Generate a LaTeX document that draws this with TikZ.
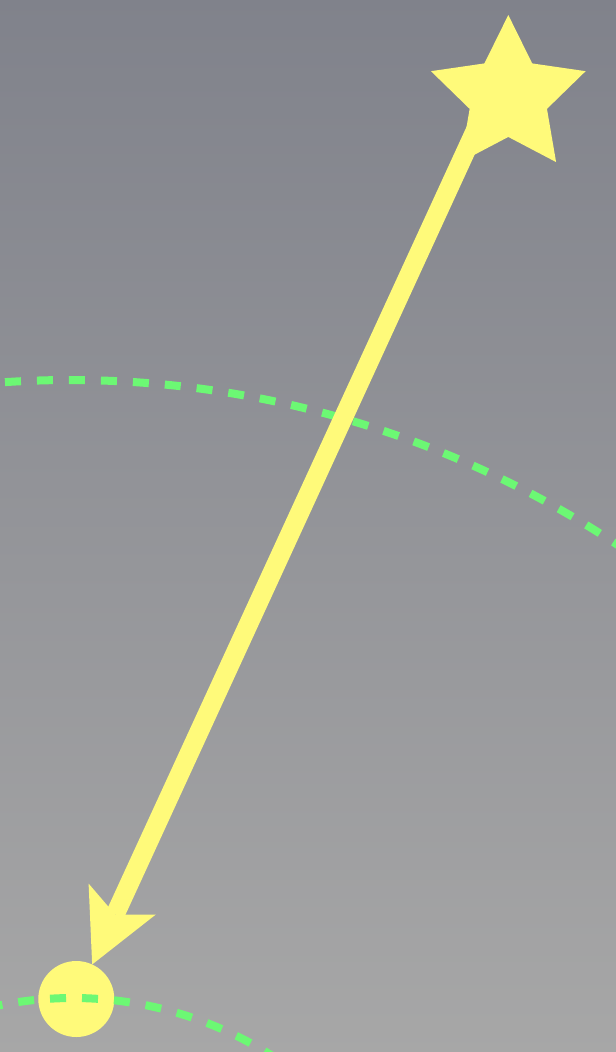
\documentclass[tikz,border=0pt]{standalone}
\usepackage{xcolor}
\usepackage{tikz}
\usetikzlibrary{arrows.meta, shapes.geometric}

\definecolor{skytop}{RGB}{128,130,139}
\definecolor{skybottom}{RGB}{167,167,167}
\definecolor{sunyellow}{RGB}{255,250,122}
\definecolor{orbitgreen}{RGB}{108,248,116}

\begin{document}
\begin{tikzpicture}[
    x=1bp, y=1bp,
    orbit/.style={draw=orbitgreen, line width=8bp, dash pattern=on 16bp off 16bp},
    beam/.style={draw=sunyellow, line width=19bp, -{Stealth[length=72bp, width=74bp, inset=17bp, line width=0bp]}},
    planetdot/.style={circle, fill=sunyellow, minimum size=76bp, inner sep=0pt, outer sep=0pt},
    sunstar/.style={star, star points=5, star point ratio=2, fill=sunyellow, minimum size=162.6bp, inner sep=0pt, outer sep=0pt},
]

% ===== Frame and sky =====
\useasboundingbox (0,0) rectangle (616,-1052);
\begin{scope}
    \clip (0,0) rectangle (616,-1052);
    \shade[top color=skytop, bottom color=skybottom] (-4,4) rectangle (620,-1056);
\end{scope}

% ===== Planet =====
\node[planetdot] (planet) at (76.3,-999) {};

% ===== Orbits =====
\coordinate (outerhub) at (70,-1372);
\coordinate (innerhub) at (73,-1370);
\begin{scope}
    \clip (0,0) rectangle (616,-1052);
    \draw[orbit, dash phase=10.5bp] (outerhub) ++(95:992) arc[start angle=95, end angle=50, radius=992];
    \draw[orbit, dash phase=21.6bp] (innerhub) ++(105:372) arc[start angle=105, end angle=50, radius=372];
\end{scope}

% ===== Beam from star to planet =====
\coordinate (launch) at (489.3,-100);
\draw[beam] (launch) -- (planet);

% ===== Star =====
\node[sunstar] (sun) at (508.3,-96.3) {};

\end{tikzpicture}
\end{document}
